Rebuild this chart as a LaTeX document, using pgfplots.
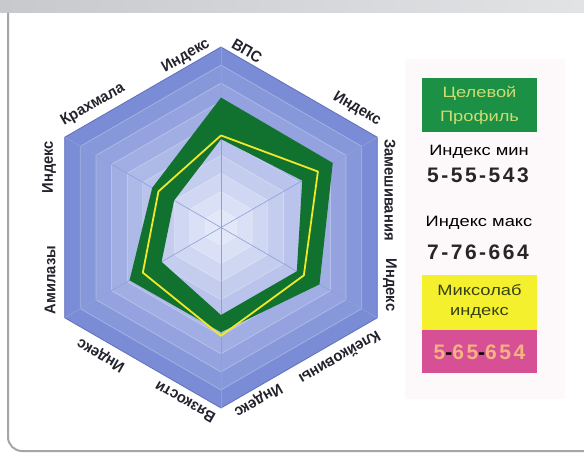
\documentclass[border=0pt]{standalone}
\usepackage{pgfplots}
\pgfplotsset{compat=1.18}
\usepgfplotslibrary{polar}
\usepackage{fontspec}
\setmainfont{Liberation Sans}
\newfontfamily\lblfont[FakeStretch=0.95]{Liberation Sans}
\newfontfamily\legfont[FakeStretch=1.22]{Liberation Sans}
\newfontfamily\numfont[LetterSpace=12]{Liberation Sans}

\definecolor{hexout}{RGB}{122,140,214}
\definecolor{hexin}{RGB}{232,237,250}
\definecolor{hexedge}{RGB}{95,112,190}
\definecolor{spoke}{RGB}{140,160,215}
\definecolor{chartgreen}{RGB}{16,114,46}
\definecolor{chartyellow}{RGB}{240,232,40}
\definecolor{leggreen}{RGB}{28,145,70}
\definecolor{leggreentext}{RGB}{205,220,115}
\definecolor{legyellow}{RGB}{245,240,45}
\definecolor{legyellowtext}{RGB}{55,65,20}
\definecolor{legpink}{RGB}{215,80,150}
\definecolor{legpinktext}{RGB}{245,178,130}
\definecolor{lbl}{RGB}{35,35,45}
\definecolor{barL}{RGB}{200,201,205}
\definecolor{barR}{RGB}{226,227,229}
\definecolor{frame}{RGB}{165,165,170}
\definecolor{legbg}{RGB}{253,248,250}

\colorlet{ring10}{hexout!100!hexin}
\colorlet{ring9}{hexout!88!hexin}
\colorlet{ring8}{hexout!76!hexin}
\colorlet{ring7}{hexout!65!hexin}
\colorlet{ring6}{hexout!54!hexin}
\colorlet{ring5}{hexout!43!hexin}
\colorlet{ring4}{hexout!33!hexin}
\colorlet{ring3}{hexout!23!hexin}
\colorlet{ring2}{hexout!13!hexin}
\colorlet{ring1}{hexout!5!hexin}

\begin{document}
\begin{tikzpicture}[x=1pt,y=1pt]
\useasboundingbox (0,0) rectangle (584,459);
% frame
\fill[white] (0,0) rectangle (584,459);
\fill[legbg] (405,60) rectangle (565,400);
\shade[left color=barL, right color=barR] (0,446) rectangle (584,459);
\draw[frame, line width=2pt, rounded corners=14pt] (8,446) -- (8,8) -- (590,8);

\begin{polaraxis}[
  at={(221pt,231.5pt)}, anchor=center,
  width=361pt, height=361pt, scale only axis,
  ymin=0, ymax=1, hide axis, clip=false, no markers,
  every axis plot/.append style={line join=round}
]
% background rings
\addplot[fill=ring10, draw=hexedge, line width=0.8pt] coordinates {(90,1) (30,1) (-30,1) (-90,1) (-150,1) (150,1) (90,1)};
\addplot[fill=ring9, draw=white, draw opacity=0.3, line width=0.7pt] coordinates {(90,0.9) (30,0.9) (-30,0.9) (-90,0.9) (-150,0.9) (150,0.9) (90,0.9)};
\addplot[fill=ring8, draw=white, draw opacity=0.3, line width=0.7pt] coordinates {(90,0.8) (30,0.8) (-30,0.8) (-90,0.8) (-150,0.8) (150,0.8) (90,0.8)};
\addplot[fill=ring7, draw=white, draw opacity=0.3, line width=0.7pt] coordinates {(90,0.7) (30,0.7) (-30,0.7) (-90,0.7) (-150,0.7) (150,0.7) (90,0.7)};
\addplot[fill=ring6, draw=white, draw opacity=0.3, line width=0.7pt] coordinates {(90,0.6) (30,0.6) (-30,0.6) (-90,0.6) (-150,0.6) (150,0.6) (90,0.6)};
\addplot[fill=ring5, draw=white, draw opacity=0.3, line width=0.7pt] coordinates {(90,0.5) (30,0.5) (-30,0.5) (-90,0.5) (-150,0.5) (150,0.5) (90,0.5)};
\addplot[fill=ring4, draw=white, draw opacity=0.3, line width=0.7pt] coordinates {(90,0.4) (30,0.4) (-30,0.4) (-90,0.4) (-150,0.4) (150,0.4) (90,0.4)};
\addplot[fill=ring3, draw=white, draw opacity=0.3, line width=0.7pt] coordinates {(90,0.3) (30,0.3) (-30,0.3) (-90,0.3) (-150,0.3) (150,0.3) (90,0.3)};
\addplot[fill=ring2, draw=white, draw opacity=0.3, line width=0.7pt] coordinates {(90,0.2) (30,0.2) (-30,0.2) (-90,0.2) (-150,0.2) (150,0.2) (90,0.2)};
\addplot[fill=ring1, draw=white, draw opacity=0.3, line width=0.7pt] coordinates {(90,0.1) (30,0.1) (-30,0.1) (-90,0.1) (-150,0.1) (150,0.1) (90,0.1)};
% spokes
\addplot[draw=spoke, line width=0.6pt] coordinates {(90,1) (270,1)};
\addplot[draw=spoke, line width=0.6pt] coordinates {(30,1) (210,1)};
\addplot[draw=spoke, line width=0.6pt] coordinates {(-30,1) (150,1)};
% target profile: band between max (outer) and min (inner)
\addplot[fill=chartgreen, draw=none] coordinates {
  (90,0.72) (30,0.715) (-30,0.63) (-90,0.58) (-150,0.585) (150,0.44) (90,0.72)
  (90,0.49) (150,0.30) (210,0.38) (270,0.485) (330,0.485) (30,0.52) (90,0.49)};
% mixolab index
\addplot[draw=chartyellow, line width=1.8pt] coordinates {
  (90,0.51) (30,0.62) (-30,0.53) (-90,0.60) (-150,0.50) (150,0.40) (90,0.51)};
\end{polaraxis}

% axis labels around the hexagon
\tikzset{lb/.style={text=lbl, inner sep=0pt, font=\lblfont\bfseries\fontsize{15.5}{15.5}\selectfont}}
\node[lb, rotate=90]  at (49,292) {Индекс};
\node[lb, rotate=30]  at (93,354) {Крахмала};
\node[lb, rotate=30]  at (186,403) {Индекс};
\node[lb, rotate=-30] at (247,408) {ВПС};
\node[lb, rotate=-30] at (357,350) {Индекс};
\node[lb, rotate=-90] at (390,269) {Замешивания};
\node[lb, rotate=-90] at (390,174) {Индекс};
\node[lb, rotate=210] at (340,101) {Клейковины};
\node[lb, rotate=210] at (258,59) {Индекс};
\node[lb, rotate=150] at (185,57) {Вязкости};
\node[lb, rotate=150] at (101,104) {Индекс};
\node[lb, rotate=90]  at (50,179) {Амилазы};

% legend
\tikzset{lg/.style={inner sep=0pt, font=\legfont\fontsize{15}{15}\selectfont},
         ln/.style={inner sep=0pt, font=\numfont\bfseries\fontsize{21}{21}\selectfont}}
\fill[leggreen] (422,381) rectangle (537,327);
\node[lg, text=leggreentext] at (479.5,366) {Целевой};
\node[lg, text=leggreentext] at (479.5,341) {Профиль};
\node[lg, text=black] at (479,307) {Индекс мин};
\node[ln, text=black!85] at (478,284) {5-55-543};
\node[lg, text=black] at (479,236) {Индекс макс};
\node[ln, text=black!85] at (478,207) {7-76-664};
\fill[legyellow] (422,184) rectangle (537,129);
\node[lg, text=legyellowtext] at (479.5,169) {Миксолаб};
\node[lg, text=legyellowtext] at (479.5,146) {индекс};
\fill[legpink] (422,129) rectangle (537,86);
\node[ln] at (479.5,107) {\textcolor{legpinktext}{5}\textcolor{black}{-}\textcolor{legpinktext}{65}\textcolor{black}{-}\textcolor{legpinktext}{654}};
\end{tikzpicture}
\end{document}
